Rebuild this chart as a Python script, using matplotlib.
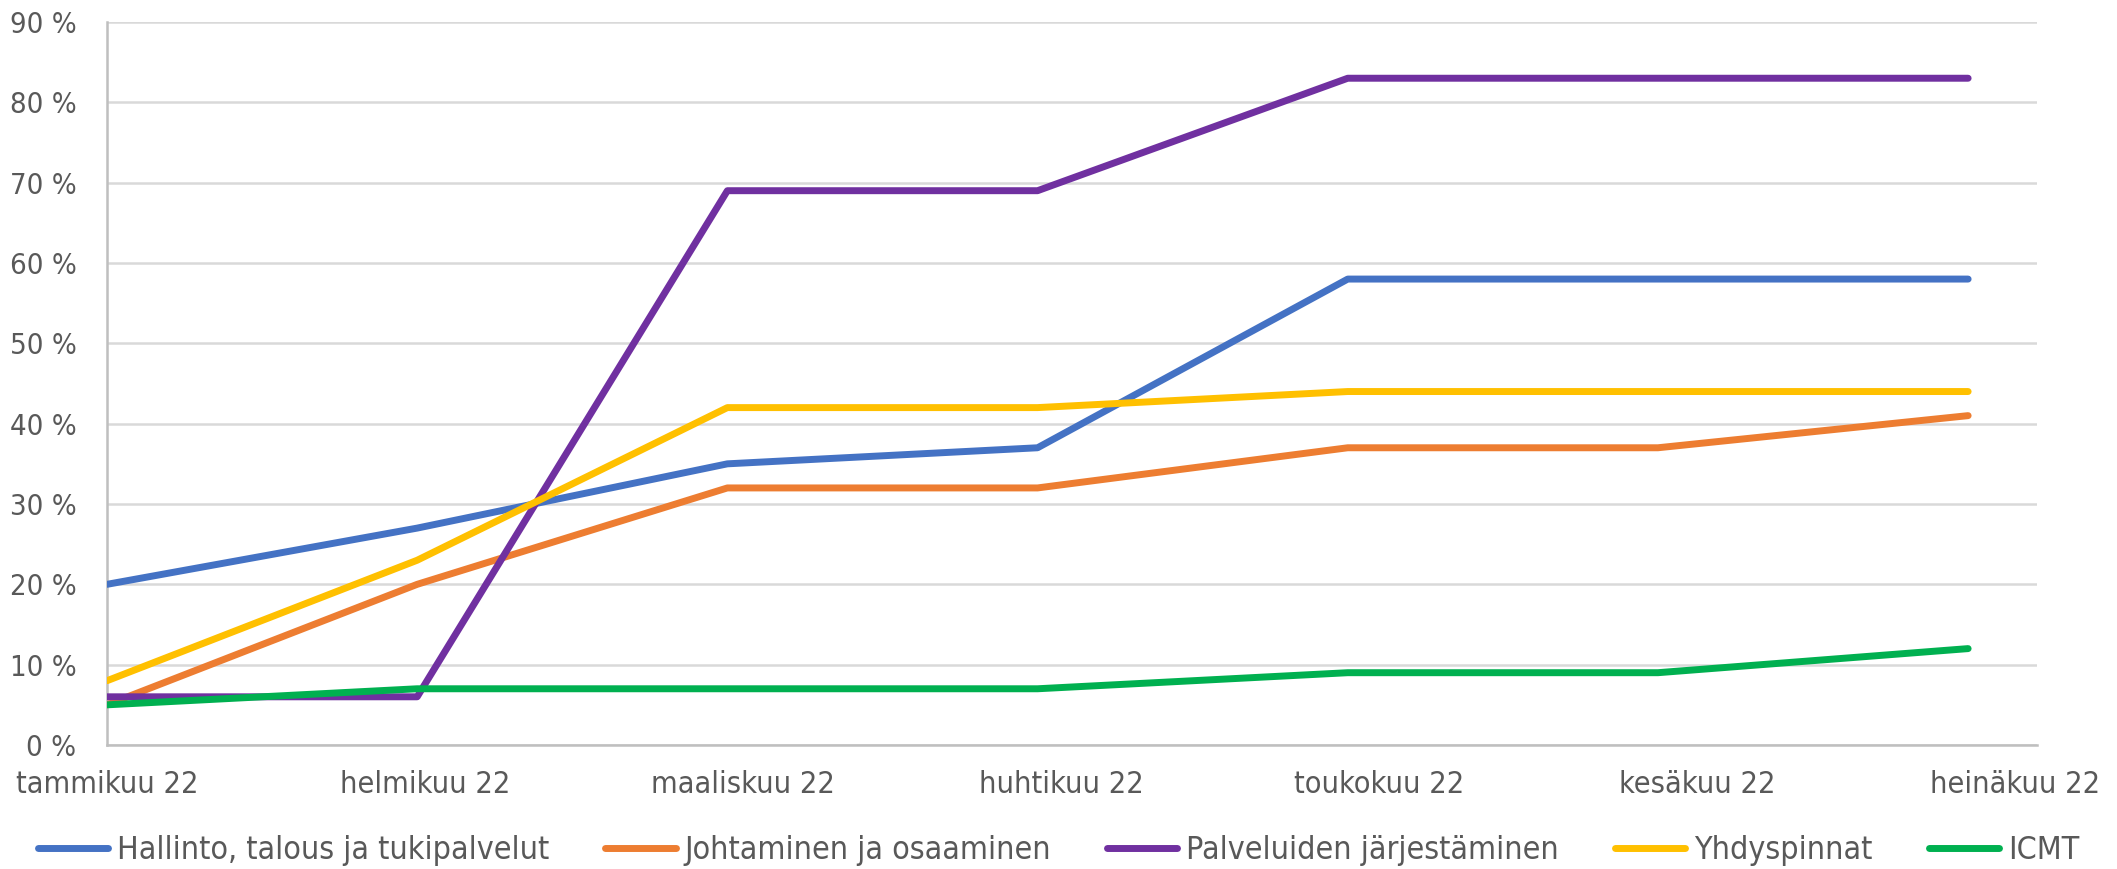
import matplotlib
matplotlib.use('Agg')
import matplotlib.pyplot as plt
from matplotlib import font_manager

months = ['tammikuu 22', 'helmikuu 22', 'maaliskuu 22', 'huhtikuu 22',
          'toukokuu 22', 'kesäkuu 22', 'heinäkuu 22']
series_names = ['Hallinto, talous ja tukipalvelut', 'Johtaminen ja osaaminen',
                'Palveluiden järjestäminen', 'Yhdyspinnat', 'ICMT']
hallinto = [20, 27, 35, 37, 58, 58, 58]
johtaminen = [5, 20, 32, 32, 37, 37, 41]
palveluiden = [6, 6, 69, 69, 83, 83, 83]
yhdyspinnat = [8, 23, 42, 42, 44, 44, 44]
icmt = [5, 7, 7, 7, 9, 9, 12]
yticks = [0, 10, 20, 30, 40, 50, 60, 70, 80, 90]

colors = ['#4472C4', '#ED7D31', '#7030A0', '#FFC000', '#00B050']

condensed = [f for f in font_manager.fontManager.ttflist
             if f.name == 'DejaVu Sans' and 'ondensed' in str(f.stretch)]
plt.rcParams['font.family'] = ['DejaVu Sans']
if condensed:
    plt.rcParams['font.stretch'] = 'condensed'

fig = plt.figure(figsize=(21.17, 8.69), dpi=100)
ax = fig.add_axes([107/2117, 1-745/869, (2037-107)/2117, (745-22)/869])

x = list(range(len(months)))
for vals, name, c in zip([hallinto, johtaminen, palveluiden, yhdyspinnat, icmt],
                         series_names, colors):
    ax.plot(x, vals, color=c, lw=5, solid_capstyle='round', label=name, zorder=3)

ax.set_xlim(0, 6.222)
ax.set_ylim(0, 90)
ax.set_yticks(yticks)
ax.set_yticklabels([f'{v} %' for v in yticks])
ax.yaxis.grid(True, color='#D9D9D9', lw=1.8, zorder=0)
ax.set_axisbelow(True)

ax.set_xticks([k * 1.0251 for k in x])
ax.set_xticklabels(months)

ax.tick_params(axis='y', length=0, pad=22, labelsize=21, labelcolor='#595959')
ax.tick_params(axis='x', length=0, pad=18, labelsize=22, labelcolor='#595959')

for s in ['top', 'right']:
    ax.spines[s].set_visible(False)
for s in ['left', 'bottom']:
    ax.spines[s].set_color('#BFBFBF')
    ax.spines[s].set_linewidth(1.8)

leg = fig.legend(loc='center', bbox_to_anchor=(0.5, 0.021), ncol=5, frameon=False,
                 fontsize=23, handlelength=2.2, handletextpad=0.28, columnspacing=1.75,
                 labelcolor='#595959', borderaxespad=0, borderpad=0)
for h in leg.get_lines():
    h.set_linewidth(5)
    h.set_solid_capstyle('round')

fig.savefig('out.png', dpi=100, facecolor='white')
